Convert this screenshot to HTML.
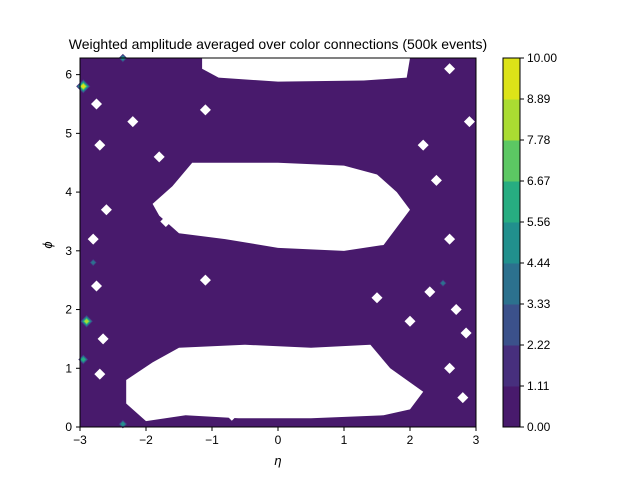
<!DOCTYPE html>
<html><head><meta charset="utf-8"><style>
body{margin:0;background:#fff;}
svg text{font-family:"Liberation Sans",sans-serif;fill:#000;}
</style></head><body>
<svg id="chart" width="640" height="480" xmlns="http://www.w3.org/2000/svg">
<text x="278" y="49" font-size="14" text-anchor="middle">Weighted amplitude averaged over color connections (500k events)</text>
<g id="plot"></g>
<g id="axes"></g>
<g id="cbar"></g>
</svg>
<script>
const levels=[0,1.11,2.22,3.33,4.44,5.56,6.67,7.78,8.89,10.00];
const levelColors=["#481a6c","#472f7d","#3b518b","#2c718e","#21908d","#27ad81","#5cc863","#aadc32","#dde318"];
const xTicks=[-3,-2,-1,0,1,2,3];
const yTicks=[0,1,2,3,4,5,6];
const holeMiddle=[[-1.9,3.8],[-1.6,4.1],[-1.3,4.5],[0,4.5],[1.0,4.45],[1.5,4.3],[1.8,4.0],[2.0,3.7],[1.8,3.4],[1.6,3.1],[1.0,3.0],[0,3.05],[-0.8,3.2],[-1.5,3.3],[-1.8,3.6]];
const holeTop=[[-1.15,6.28],[2.0,6.28],[1.95,5.95],[1.3,5.9],[0,5.88],[-0.9,5.95],[-1.15,6.1]];
const holeBottom=[[-2.3,0.8],[-1.9,1.1],[-1.5,1.35],[-0.5,1.4],[0.5,1.35],[1.4,1.4],[1.7,1.0],[2.2,0.6],[2.0,0.3],[1.6,0.2],[0.5,0.15],[-0.6,0.15],[-1.4,0.2],[-2.0,0.1],[-2.3,0.4]];
const spots=[[-2.75,5.5],[-2.7,4.8],[-2.6,3.7],[-2.8,3.2],[-2.75,2.4],[-2.65,1.5],[-2.7,0.9],[-2.2,5.2],[-1.8,4.6],[-1.7,3.5],[-1.1,2.5],[-1.1,5.4],[-0.3,6.1],[2.2,4.8],[2.4,4.2],[2.6,3.2],[2.7,2.0],[2.85,1.6],[2.6,1.0],[2.8,0.5],[2.9,5.2],[2.6,6.1],[2.3,2.3],[2.0,1.8],[1.5,2.2],[-1.9,0.6],[-0.7,0.2]];
const hot=[[-2.9,1.8,8],[-2.8,2.8,4],[2.5,2.45,4],[-2.35,0.05,5],[-2.95,5.8,9],[-2.95,1.15,6],[-2.35,6.28,5]];
const X0=80,X1=476,Y0=427,Y1=58;
const xs=v=>X0+(v+3)/6*(X1-X0);
const ys=v=>Y0-v/(2*Math.PI)*(Y0-Y1);
const NS="http://www.w3.org/2000/svg";
function mk(t,a,p){const e=document.createElementNS(NS,t);for(const k in a)e.setAttribute(k,a[k]);p.appendChild(e);return e;}
const plot=document.getElementById('plot');
const bg=mk('rect',{x:X0,y:Y1,width:X1-X0,height:Y0-Y1,fill:levelColors[0]},plot);


[holeMiddle,holeTop,holeBottom].forEach((h,i)=>{
 const p=mk('polygon',{points:h.map(q=>xs(q[0])+','+ys(q[1])).join(' '),fill:'#fff'},plot);
 
 
});
spots.forEach(s=>{
 const cx=xs(s[0]),cy=ys(s[1]);
 const p=mk('polygon',{points:`${cx-5.5},${cy} ${cx},${cy-5.5} ${cx+5.5},${cy} ${cx},${cy+5.5}`,fill:'#fff'},plot);
 
 
});
hot.forEach(s=>{
 const cx=xs(s[0]),cy=ys(s[1]);
 const lv=Math.min(8,Math.floor(s[2]/1.111));
 for(let k=lv;k>=1;k--){const r=1.5+k*0.7;
  const p=mk('polygon',{points:`${cx-r},${cy} ${cx},${cy-r} ${cx+r},${cy} ${cx},${cy+r}`,fill:levelColors[lv-k+1]},plot);
  
  }
});
const ax=document.getElementById('axes');
const fr=mk('rect',{x:X0,y:Y1,width:X1-X0,height:Y0-Y1,fill:'none',stroke:'#000','stroke-width':1},ax);


xTicks.forEach(t=>{const x=xs(t);mk('line',{x1:x,x2:x,y1:Y0,y2:Y0+4,stroke:'#000'},ax);
 const e=mk('text',{x:x,y:Y0+17,'font-size':12,'text-anchor':'middle'},ax);e.textContent=t<0?'−'+(-t):t;
 });
yTicks.forEach(t=>{const y=ys(t);mk('line',{x1:X0-4,x2:X0,y1:y,y2:y,stroke:'#000'},ax);
 const e=mk('text',{x:X0-8,y:y+4,'font-size':12,'text-anchor':'end'},ax);e.textContent=t;
 });
const xl=mk('text',{x:278,y:465,'font-size':13,'font-style':'italic','text-anchor':'middle'},ax);xl.textContent='η';

const yl=mk('text',{x:52,y:245,'font-size':13,'font-style':'italic','text-anchor':'middle',transform:'rotate(-90 52 245)'},ax);yl.textContent='ϕ';

const cb=document.getElementById('cbar');
const CX=503,CW=17,n=levelColors.length,h=(Y0-Y1)/n;
levelColors.forEach((c,i)=>{const r=mk('rect',{x:CX,y:Y0-(i+1)*h,width:CW,height:h+0.5,fill:c},cb);
 });
mk('rect',{x:CX,y:Y1,width:CW,height:Y0-Y1,fill:'none',stroke:'#000'},cb);
levels.forEach((v,i)=>{const y=Y0-i*h;mk('line',{x1:CX+CW,x2:CX+CW+4,y1:y,y2:y,stroke:'#000'},cb);
 const e=mk('text',{x:CX+CW+7,y:y+4,'font-size':12},cb);e.textContent=v.toFixed(2);
 });
</script>
</body></html>
